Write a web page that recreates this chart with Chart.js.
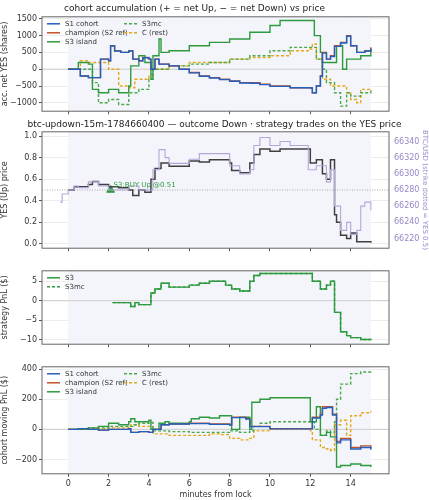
<!DOCTYPE html>
<html><head><meta charset="utf-8">
<script src="https://cdn.jsdelivr.net/npm/chart.js@4"></script>
<style>
body{margin:0;background:#fff;width:429px;height:500px;position:relative;overflow:hidden}
canvas{position:absolute;left:0}
</style></head><body>
<canvas id="c1" style="top:0"></canvas>
<canvas id="c2" style="top:117px"></canvas>
<canvas id="c3" style="top:264px"></canvas>
<canvas id="c4" style="top:360px"></canvas>
<script>
// ---- panel 1: accumulation (shares) ----
const accT_champ = [0,0.5,0.6,1.0,1.5,1.6,2.0,2.1,2.3,2.6,3.0,3.2,3.5,3.7,4.0,4.1,4.3,4.5,5.0,5.5,6.0,6.5,7.0,7.5,8.0,8.5,9.0,9.5,10.0,11.0,12.0,12.1,12.3,12.5,12.6,12.8,13.0,13.2,13.5,13.8,14.0,14.3,14.7,15.0];
const accChamp = [0,0,-200,-250,-250,300,250,700,550,500,550,300,250,350,300,0,300,150,100,0,-100,-200,-250,-300,-350,-400,-400,-450,-500,-550,-550,-700,-500,-200,500,300,400,700,800,1000,700,500,550,650];
const accS1 = [0,0,-200,-250,-250,300,250,690,540,500,540,300,250,340,300,0,300,150,100,0,-110,-210,-260,-310,-360,-410,-420,-460,-510,-550,-560,-700,-500,-200,480,300,380,680,780,980,700,500,540,620];
const accT_s3 = [0,0.5,1.0,1.2,1.5,2.0,2.5,3.0,3.1,3.5,3.8,4.1,4.2,4.5,4.6,5.0,6.0,7.0,8.0,9.0,10.0,10.5,12.0,12.2,12.5,12.6,13.0,13.3,13.6,13.8,14.0,14.5,15.0];
const accS3 = [0,200,150,-600,-700,-600,-700,-500,100,400,200,-300,400,900,500,550,700,800,900,1100,1300,1450,1450,1000,500,200,200,700,0,300,300,400,600];
const accT_mc = [0,0.8,1.2,1.5,2.0,2.5,3.0,3.5,4.0,4.2,5.0,6.0,7.0,8.0,9.0,10.0,11.0,12.0,12.3,12.6,12.8,13.2,13.5,13.8,14.0,14.5,15.0];
const accS3mc = [0,0,-400,-1000,-900,-1050,-700,-600,-300,0,100,150,200,300,400,550,650,650,300,0,-400,-700,-1100,-700,-800,-700,-600];
const accT_c = [0,0.6,1.0,1.5,2.0,2.5,3.0,3.3,3.5,4.0,4.1,4.5,5.0,6.0,7.0,8.0,9.0,10.0,11.0,12.0,12.1,12.3,12.6,13.0,13.3,13.8,14.0,14.3,14.5,15.0];
const accC = [0,250,200,200,0,-500,-550,-300,-300,-200,0,0,100,200,200,300,350,400,550,600,750,300,-300,-500,-500,-700,-900,-1000,-600,-650];
const accTicks = [-1000,-500,0,500,1000,1500];

// ---- panel 2: prices ----
const priceT = [0,0.3,1.0,1.2,1.5,2.0,2.5,3.0,3.2,3.5,3.8,4.0,4.1,4.3,4.6,5.0,5.5,6.0,6.5,7.0,7.5,8.0,8.1,8.5,9.0,9.2,9.5,10,10.5,11.5,11.9,12.0,12.3,12.6,12.8,13.0,13.2,13.3,13.5,13.8,14.0,14.3,14.7,15.0];
const yesPrice = [0.5,0.53,0.55,0.58,0.55,0.53,0.52,0.5,0.45,0.5,0.48,0.48,0.6,0.7,0.75,0.72,0.72,0.77,0.76,0.78,0.78,0.75,0.68,0.66,0.75,0.83,0.88,0.86,0.88,0.88,0.88,0.75,0.78,0.65,0.6,0.78,0.27,0.2,0.08,0.05,0.1,0.02,0.02,0.01];
const btcT = [-0.4,-0.3,0,0.3,0.5,1,1.5,2,2.5,3,3.5,4,4.2,4.5,4.8,5,6,6.5,7,7.5,8,8.5,9,9.2,9.5,10,10.5,11,11.8,11.9,12.3,12.8,13,13.2,13.5,13.8,14.0,14.3,14.5,14.7,15];
const btcPrice = [66265,66275,66280,66285,66283,66290,66285,66280,66280,66285,66280,66280,66305,66330,66320,66313,66318,66325,66325,66325,66310,66300,66305,66335,66345,66335,66340,66335,66335,66305,66310,66290,66305,66260,66230,66240,66225,66230,66260,66265,66255];
const tradeT = [2.1], tradeY = [0.5];
const tradeLabels = ['S3:BUY Up @0.51'];

// ---- panel 3: strategy PnL ----
const pnlT = [2.2,3.0,3.1,3.3,3.5,4.0,4.1,4.3,4.6,5.0,5.5,6.0,6.5,7.0,7.5,7.8,8.1,8.5,9.0,9.2,9.5,10,10.5,12,12.1,12.5,12.8,13.0,13.2,13.5,13.8,14.0,14.5,15];
const pnlS3 = [-0.5,-0.5,-1.5,-0.5,-1,-1,2,3,4.5,3.5,3.5,4,4.5,5,5,4,3,2.5,5,6.5,7,7,7,7,5,3,4,5,-3,-8,-9,-9.5,-10,-10.2];
const pnlS3mc = pnlS3.slice();

// ---- panel 4: cohort moving PnL ----
const cpT_champ = [0,0.5,1,1.5,2.0,3.0,3.1,3.5,4.0,4.2,4.6,5,6,7,8,8.1,8.8,9,10,12,12.1,12.5,12.6,12.8,13.1,13.3,13.5,14,14.5,15];
const cpChamp = [0,5,0,-5,0,5,-20,-15,-20,0,30,35,40,35,30,80,70,20,5,5,80,100,150,150,100,-80,-60,-120,-110,-125];
const cpS1 = [0,5,0,-5,0,5,-20,-15,-20,0,30,35,38,33,28,78,68,18,3,3,75,95,140,145,95,-90,-70,-130,-120,-135];
const cpT_s3 = [0,1,1.5,2,2.5,3,3.1,3.3,3.6,4,4.1,4.5,4.8,5,6,6.1,6.5,7,7.5,8,8.1,8.5,9,9.1,9.5,10,11.9,12,12.3,12.5,12.8,13,13.2,13.3,13.5,14,14.5,15];
const cpS3 = [0,10,20,40,30,50,70,50,50,60,0,40,50,40,50,70,80,75,90,90,0,80,0,180,200,210,210,50,150,-40,-20,-50,-50,-250,-240,-230,-240,-250];
const cpT_mc = [0,1,2,3,3.2,3.5,4,4.2,5,6,7,8,8.5,9,9.2,9.5,10,11,12,12.2,12.5,12.8,13,13.2,13.3,13.5,14,14.5,15];
const cpS3mc = [0,10,20,20,30,40,45,-10,-15,-20,-20,-10,-20,-10,20,40,50,50,50,0,-40,-10,-20,50,200,300,370,380,390];
const cpT_c = [0,1,2,3,3.1,3.5,4,4.2,5,6,7,7.5,8,8.5,9,9.2,10,12,12.1,12.5,12.8,13,13.2,13.5,13.8,14,14.5,15];
const cpC = [0,5,10,15,30,20,20,-30,-40,-40,-30,-35,-60,-70,-60,-10,0,-10,-70,-120,-130,-140,30,60,-40,90,110,120];

const xTicks = [0,2,4,6,8,10,12,14];
const BLUE = '#2060c0', RED = '#c4502a', GREEN = '#2e9a3e', GREEN2 = '#4aa84a', ORANGE = '#e6a81c', GREY = '#555';
const FONT = 'DejaVu Sans';
Chart.defaults.font.family = FONT;
Chart.defaults.font.size = 8;
Chart.defaults.color = '#333';
Chart.defaults.animation = false;

function pts(t, v) { return t.map((x, i) => ({x: x, y: v[i]})); }
function fmt(v) { return String(v).replace('-', '\u2212'); }
function line(label, t, v, color, dashed, extra) {
  return Object.assign({
    label: label, data: pts(t, v), borderColor: color, backgroundColor: color,
    borderWidth: 1.4, pointRadius: 0, stepped: true, borderDash: dashed ? [3, 2] : []
  }, extra || {});
}

// shaded lock window, zero line, frame, inner legend
const panelDeco = {
  id: 'panelDeco',
  beforeDatasetsDraw(chart, args, o) {
    const c = chart.ctx, a = chart.chartArea, x = chart.scales.x, y = chart.scales.y;
    c.save();
    c.fillStyle = '#f3f5fb';
    c.fillRect(x.getPixelForValue(0), a.top, x.getPixelForValue(15) - x.getPixelForValue(0), a.bottom - a.top);
    if (o.hline !== undefined) {
      const py = y.getPixelForValue(o.hline);
      c.strokeStyle = o.hdash ? '#aaa' : '#ccc';
      c.lineWidth = 1;
      c.setLineDash(o.hdash ? [1, 1.5] : []);
      c.beginPath(); c.moveTo(a.left, py); c.lineTo(a.right, py); c.stroke();
    }
    c.restore();
  },
  afterDraw(chart, args, o) {
    const c = chart.ctx, a = chart.chartArea;
    c.save();
    c.strokeStyle = '#666'; c.lineWidth = 1;
    c.strokeRect(a.left, a.top, a.right - a.left, a.bottom - a.top);
    if (o.legend) {
      c.font = '7px ' + FONT;
      c.textBaseline = 'middle';
      o.legend.forEach(function (col, ci) {
        col.forEach(function (idx, ri) {
          const ds = chart.data.datasets[idx];
          const lx = a.left + 5 + ci * 77, ly = a.top + 7 + ri * 9;
          c.strokeStyle = ds.borderColor; c.lineWidth = 1.5;
          c.setLineDash(ds.borderDash || []);
          c.beginPath(); c.moveTo(lx, ly); c.lineTo(lx + 13, ly); c.stroke();
          c.setLineDash([]);
          c.fillStyle = '#333';
          c.fillText(ds.label, lx + 18, ly);
        });
      });
    }
    c.restore();
  }
};

function xScale(showLabels) {
  return {
    type: 'linear', min: -1.3, max: 15.9,
    afterBuildTicks: s => { s.ticks = xTicks.map(v => ({value: v})); },
    grid: {color: '#ececec', drawTicks: true, tickLength: 3, tickColor: GREY},
    border: {display: false},
    ticks: {display: showLabels, font: {size: 8}, padding: 2, callback: fmt},
    title: {display: showLabels, text: 'minutes from lock', font: {size: 8}, padding: 0}
  };
}
function yScale(title, ticks, min, max) {
  return {
    min: min, max: max,
    afterBuildTicks: s => { s.ticks = ticks.map(v => ({value: v})); },
    afterFit: s => { s.width = 42; },
    grid: {color: '#ececec', tickLength: 3, tickColor: GREY},
    border: {display: false},
    ticks: {font: {size: 8}, padding: 2, callback: fmt},
    title: {display: true, text: title, font: {size: 8}, padding: 0}
  };
}
function makeChart(id, w, h, datasets, scales, deco, title, padTop, padRight) {
  const cv = document.getElementById(id);
  cv.width = w; cv.height = h;
  return new Chart(cv, {
    type: 'line',
    data: {datasets: datasets},
    options: {
      responsive: false,
      layout: {padding: {top: padTop, right: padRight, left: 0, bottom: 0}},
      scales: scales,
      plugins: {
        legend: {display: false},
        tooltip: {enabled: false},
        title: title ? {display: true, text: title, font: {size: 9, weight: 'normal'}, color: '#222', padding: {top: 0, bottom: 3}} : {display: false},
        panelDeco: deco
      }
    },
    plugins: [panelDeco]
  });
}

// panel 1
makeChart('c1', 429, 118, [
  line('S1 cohort', accT_champ, accS1, BLUE, false),
  line('champion (S2 ref)', accT_champ, accChamp, RED, false),
  line('S3 island', accT_s3, accS3, GREEN, false),
  line('S3mc', accT_mc, accS3mc, GREEN2, true),
  line('C (rest)', accT_c, accC, ORANGE, true)
], {x: xScale(false), y: yScale('acc. net YES (shares)', accTicks, -1250, 1560)},
  {hline: 0, legend: [[0, 1, 2], [3, 4]]},
  'cohort accumulation (+ = net Up, \u2212 = net Down) vs price', 3, 40);

// panel 2
const tradeLabelPlugin = {
  id: 'tradeLabel',
  afterDatasetsDraw(chart) {
    const c = chart.ctx, x = chart.scales.x, y = chart.scales.y;
    c.save();
    c.fillStyle = GREEN; c.font = '7px ' + FONT; c.textBaseline = 'bottom';
    tradeT.forEach((t, i) => c.fillText(tradeLabels[i], x.getPixelForValue(t) + 3, y.getPixelForValue(tradeY[i]) - 1));
    c.restore();
  }
};
(function () {
  const cv = document.getElementById('c2');
  cv.width = 429; cv.height = 138;
  const ys = yScale('YES (Up) price', [0, 0.2, 0.4, 0.6, 0.8, 1.0], -0.04, 1.04);
  ys.ticks.callback = v => v.toFixed(1);
  new Chart(cv, {
    type: 'line',
    data: {datasets: [
      line('BTC', btcT, btcPrice, '#b5a6d9', false, {yAxisID: 'y2', borderWidth: 1.1}),
      line('YES', priceT, yesPrice, '#404040', false, {borderWidth: 1.5}),
      {type: 'scatter', label: 'trade', data: pts(tradeT, tradeY), pointStyle: 'triangle', pointRadius: 4.5,
       backgroundColor: GREEN, borderColor: GREEN}
    ]},
    options: {
      responsive: false,
      layout: {padding: {top: 2, right: 0, left: 0, bottom: 0}},
      scales: {
        x: xScale(false), y: ys,
        y2: {position: 'right', min: 66208, max: 66352,
          afterBuildTicks: s => { s.ticks = [66220, 66240, 66260, 66280, 66300, 66320, 66340].map(v => ({value: v})); },
          afterFit: s => { s.width = 40; },
          grid: {display: false, tickLength: 3, tickColor: '#9a86c9'},
          border: {display: false},
          ticks: {color: '#9a86c9', font: {size: 8}, padding: 2, callback: v => String(v)},
          title: {display: true, text: 'BTC/USD (strike dotted = YES 0.5)', color: '#9a86c9', font: {size: 7}, padding: 0}}
      },
      plugins: {
        legend: {display: false}, tooltip: {enabled: false},
        title: {display: true, text: 'btc-updown-15m-1784660400 \u2014 outcome Down \u00b7 strategy trades on the YES price',
          font: {size: 9, weight: 'normal'}, color: '#222', padding: {top: 0, bottom: 2}},
        panelDeco: {hline: 0.5, hdash: true}
      }
    },
    plugins: [panelDeco, tradeLabelPlugin]
  });
})();

// panel 3
makeChart('c3', 429, 87, [
  line('S3', pnlT, pnlS3, GREEN, false),
  line('S3mc', pnlT, pnlS3mc, GREEN, true)
], {x: xScale(false), y: yScale('strategy PnL ($)', [-10, -5, 0, 5], -11.2, 7.7)},
  {hline: 0, legend: [[0, 1]]}, null, 6, 40);

// panel 4
makeChart('c4', 429, 140, [
  line('S1 cohort', cpT_champ, cpS1, BLUE, false),
  line('champion (S2 ref)', cpT_champ, cpChamp, RED, false),
  line('S3 island', cpT_s3, cpS3, GREEN, false),
  line('S3mc', cpT_mc, cpS3mc, GREEN2, true),
  line('C (rest)', cpT_c, cpC, ORANGE, true)
], {x: xScale(true), y: yScale('cohort moving PnL ($)', [-200, 0, 200, 400], -295, 415)},
  {hline: 0, legend: [[0, 1, 2], [3, 4]]}, null, 5, 40);
</script>
</body></html>
